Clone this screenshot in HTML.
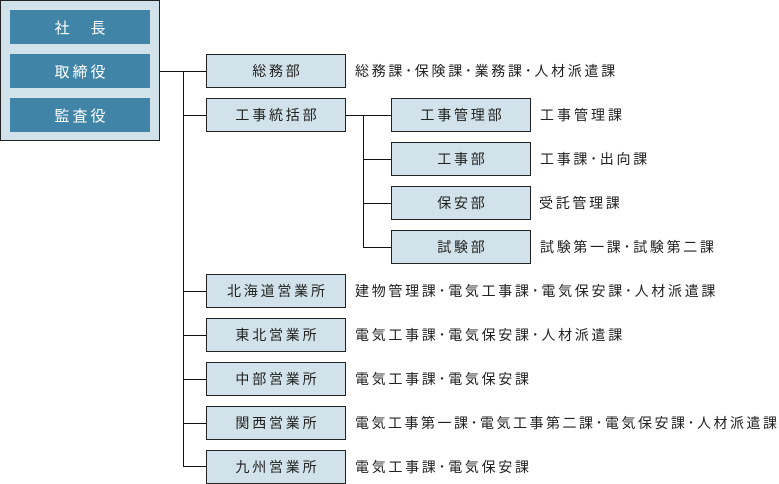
<!DOCTYPE html>
<html><head><meta charset="utf-8">
<style>
html,body{margin:0;padding:0;background:#fff;}
body{width:779px;height:484px;position:relative;overflow:hidden;font-family:"Liberation Sans","Noto Sans CJK JP",sans-serif;}
.outer{position:absolute;left:0;top:0;width:160px;height:141px;box-sizing:border-box;border:1px solid #222;background:#d1e2ea;}
.blue{position:absolute;left:10px;width:140px;height:34px;background:#4085a8;color:#fff;font-size:15px;letter-spacing:3px;display:flex;align-items:center;justify-content:center;padding-left:3px;box-sizing:border-box;}
.box{position:absolute;width:140px;height:34px;box-sizing:border-box;border:1px solid #222;background:#d1e2ea;color:#222;font-size:14px;letter-spacing:2.8px;display:flex;align-items:center;justify-content:center;padding-left:2.8px;}
.t{position:absolute;height:34px;line-height:34px;font-size:14px;letter-spacing:2.7px;color:#222;white-space:nowrap;}
svg{position:absolute;left:0;top:0;}
</style></head><body>
<svg width="779" height="484">
<g stroke="#111" stroke-width="1" fill="none">
<line x1="159" y1="71.5" x2="206" y2="71.5"/>
<line x1="183.5" y1="71" x2="183.5" y2="467"/>
<line x1="183" y1="115.5" x2="206" y2="115.5"/>
<line x1="183" y1="291.5" x2="206" y2="291.5"/>
<line x1="183" y1="335.5" x2="206" y2="335.5"/>
<line x1="183" y1="379.5" x2="206" y2="379.5"/>
<line x1="183" y1="423.5" x2="206" y2="423.5"/>
<line x1="183" y1="466.5" x2="206" y2="466.5"/>
<line x1="345" y1="115.5" x2="391" y2="115.5"/>
<line x1="363.5" y1="115" x2="363.5" y2="248"/>
<line x1="363" y1="159.5" x2="391" y2="159.5"/>
<line x1="363" y1="203.5" x2="391" y2="203.5"/>
<line x1="363" y1="247.5" x2="391" y2="247.5"/>
</g>
</svg>
<div class="outer"></div>
<div class="blue" style="top:10px">社　長</div>
<div class="blue" style="top:54px">取締役</div>
<div class="blue" style="top:98px">監査役</div>

<div class="box" style="left:206px;top:54px">総務部</div>
<div class="box" style="left:206px;top:98px">工事統括部</div>
<div class="box" style="left:391px;top:98px">工事管理部</div>
<div class="box" style="left:391px;top:142px">工事部</div>
<div class="box" style="left:391px;top:186px">保安部</div>
<div class="box" style="left:391px;top:230px">試験部</div>
<div class="box" style="left:206px;top:274px">北海道営業所</div>
<div class="box" style="left:206px;top:318px">東北営業所</div>
<div class="box" style="left:206px;top:362px">中部営業所</div>
<div class="box" style="left:206px;top:406px">関西営業所</div>
<div class="box" style="left:206px;top:450px">九州営業所</div>

<div class="t" style="left:355px;top:54px">総務課･保険課･業務課･人材派遣課</div>
<div class="t" style="left:540px;top:98px;letter-spacing:3px">工事管理課</div>
<div class="t" style="left:540px;top:142px">工事課･出向課</div>
<div class="t" style="left:539px;top:186px">受託管理課</div>
<div class="t" style="left:540px;top:230px">試験第一課･試験第二課</div>
<div class="t" style="left:355px;top:274px">建物管理課･電気工事課･電気保安課･人材派遣課</div>
<div class="t" style="left:355px;top:318px">電気工事課･電気保安課･人材派遣課</div>
<div class="t" style="left:355px;top:362px">電気工事課･電気保安課</div>
<div class="t" style="left:355px;top:406px;letter-spacing:2.5px">電気工事第一課･電気工事第二課･電気保安課･人材派遣課</div>
<div class="t" style="left:355px;top:450px">電気工事課･電気保安課</div>
</body></html>
